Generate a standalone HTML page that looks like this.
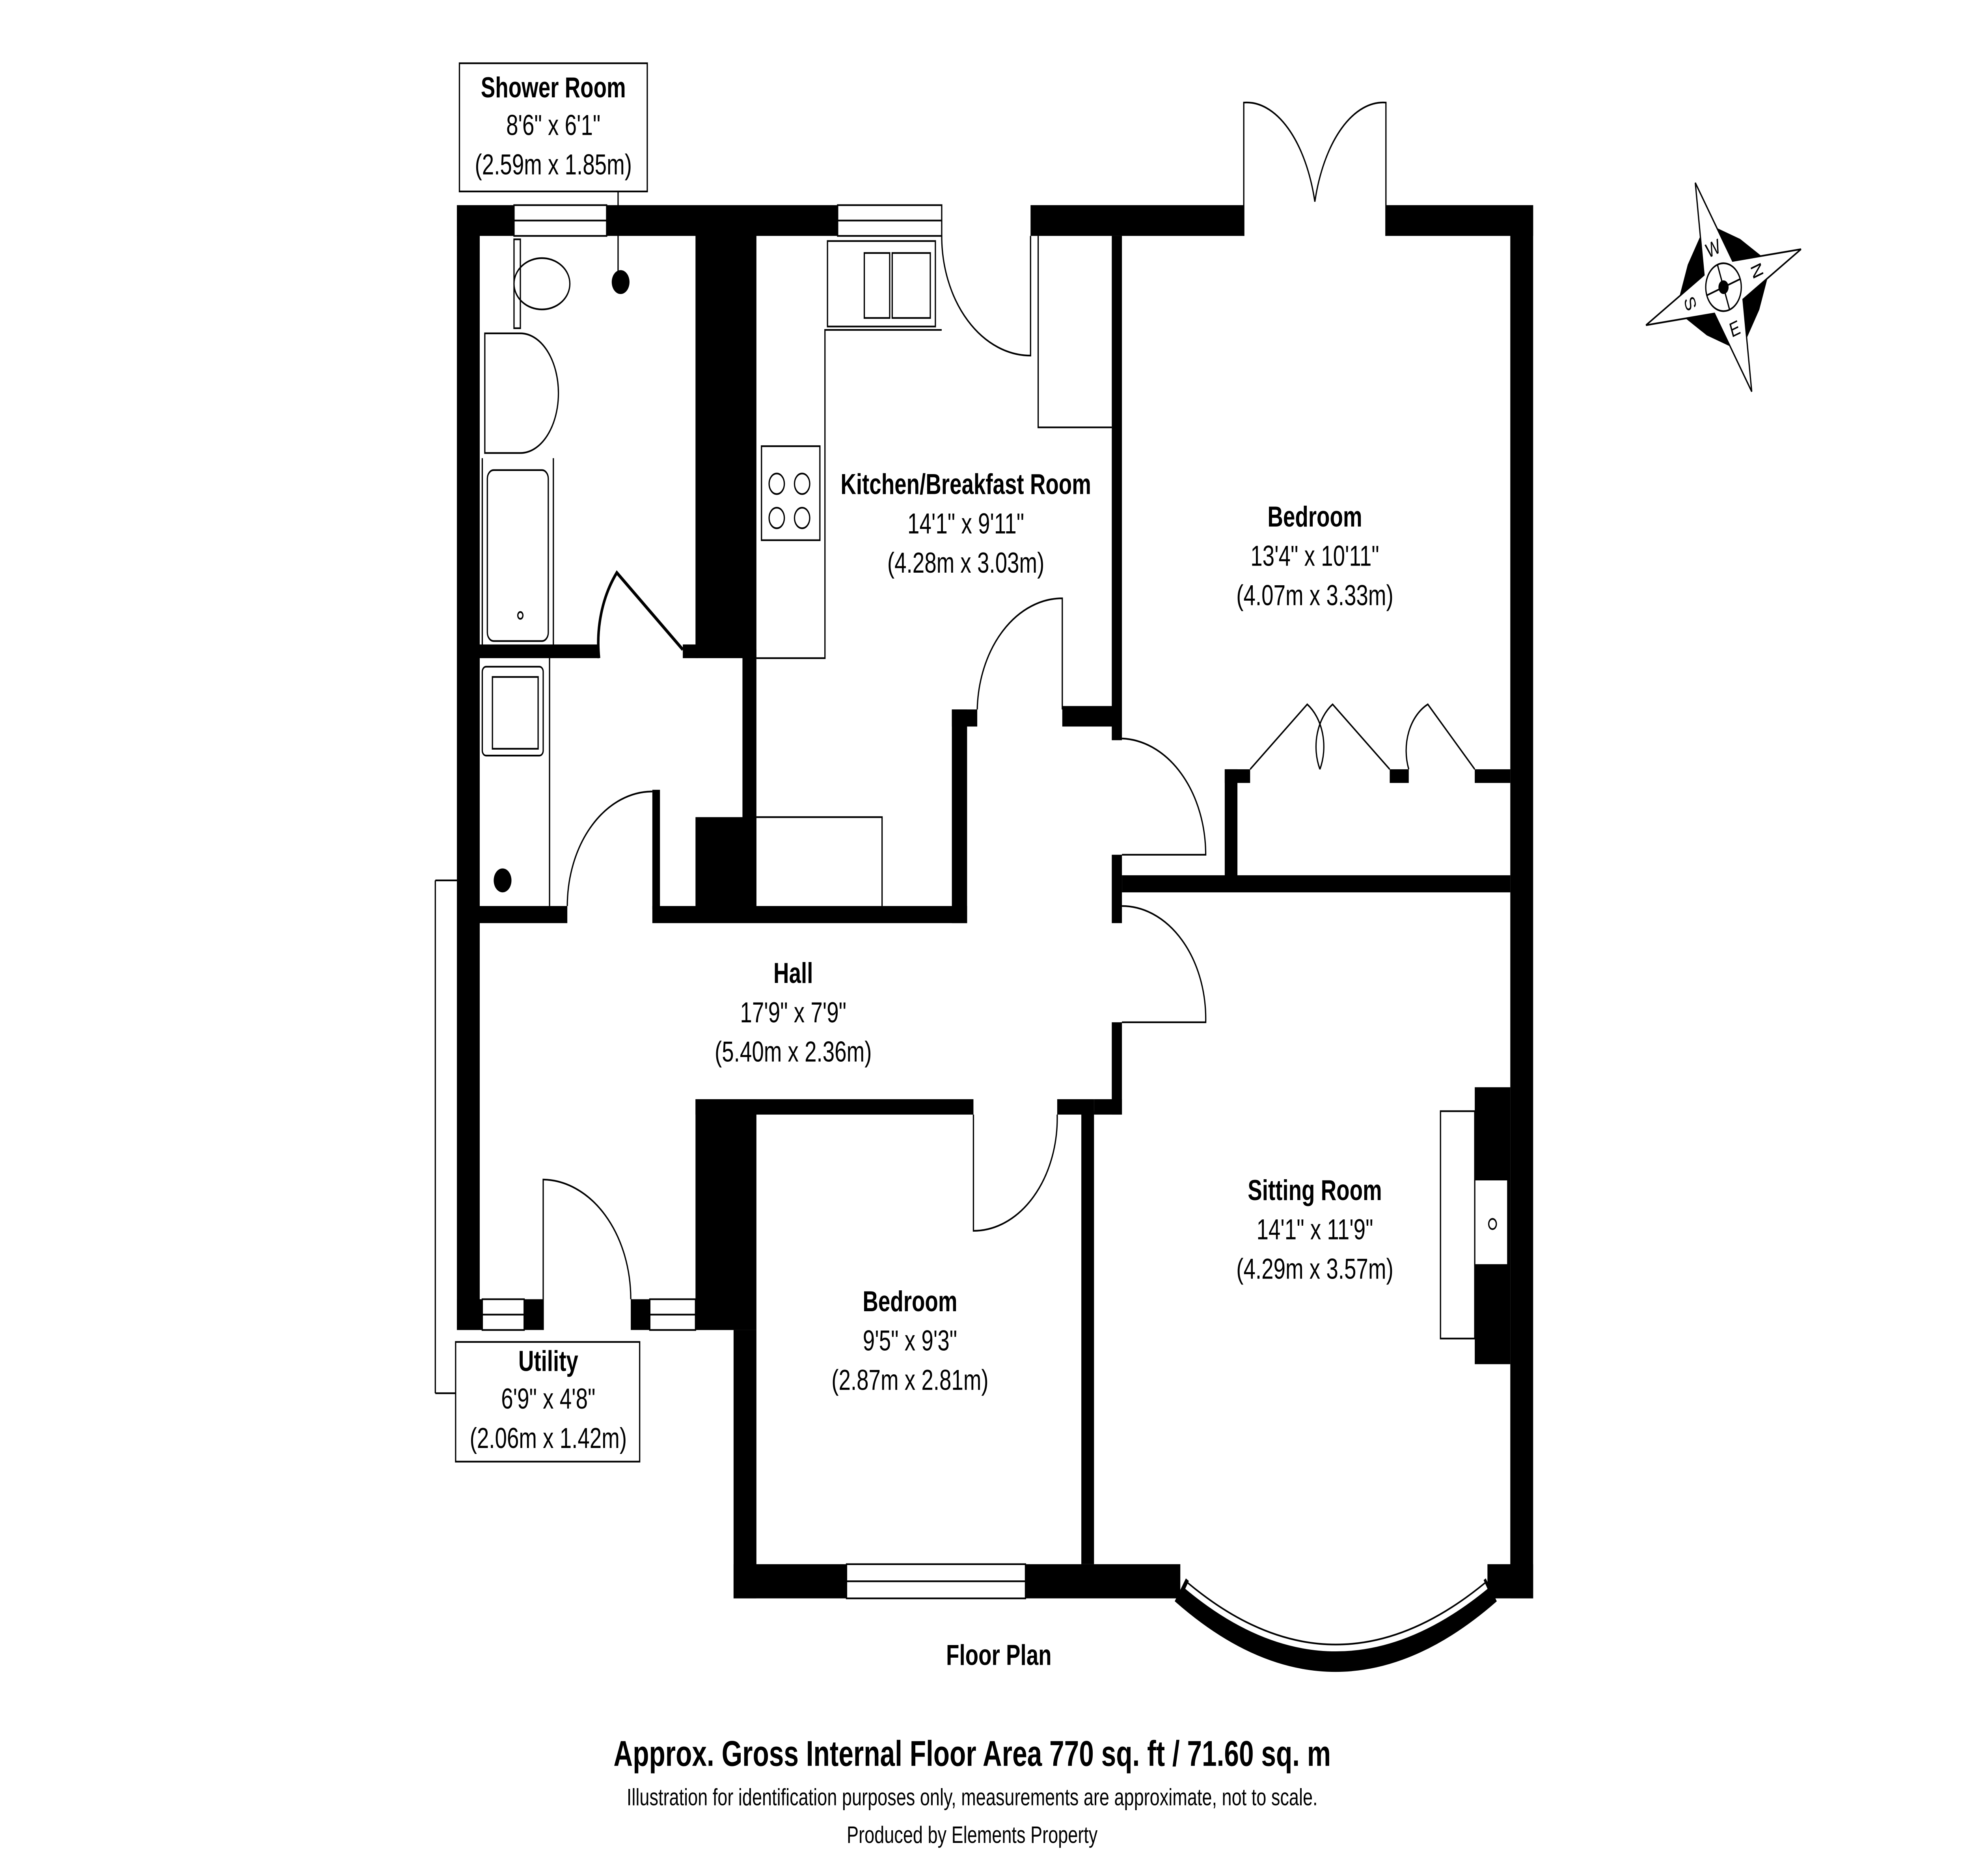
<!DOCTYPE html>
<html><head><meta charset="utf-8"><style>html,body{margin:0;padding:0;background:#fff;width:100%;height:100%;overflow:hidden}svg{display:block;position:absolute;left:0;top:0;width:100vw;height:100vh}</style></head>
<body>
<svg viewBox="0 0 1553 1097.4" preserveAspectRatio="none" xmlns="http://www.w3.org/2000/svg" font-family="Liberation Sans, Arial, sans-serif">
<rect width="1553" height="1098" fill="#fff"/>
<g fill="#000">
<rect x="360" y="120" width="300" height="18"/>
<rect x="812" y="120" width="168" height="18"/>
<rect x="1092" y="120" width="116" height="18"/>
<rect x="360" y="120" width="18" height="658"/>
<rect x="1190" y="120" width="18" height="815"/>
<rect x="548" y="120" width="48" height="265"/>
<rect x="585" y="380" width="11" height="152"/>
<rect x="548" y="478" width="48" height="54"/>
<rect x="378" y="377" width="94" height="8"/>
<rect x="538" y="377" width="12" height="8"/>
<rect x="514" y="462" width="6" height="70"/>
<rect x="378" y="530" width="69" height="10"/>
<rect x="514" y="530" width="248" height="10"/>
<rect x="750" y="415" width="12" height="125"/>
<rect x="750" y="415" width="20" height="10"/>
<rect x="837" y="413" width="45" height="12"/>
<rect x="876" y="138" width="8" height="295"/>
<rect x="876" y="500" width="8" height="40"/>
<rect x="884" y="512" width="306" height="10"/>
<rect x="965" y="450" width="10" height="64"/>
<rect x="965" y="450" width="20" height="8"/>
<rect x="1095" y="450" width="15" height="8"/>
<rect x="1162" y="450" width="28" height="8"/>
<rect x="876" y="598" width="8" height="54"/>
<rect x="862" y="643" width="22" height="9"/>
<rect x="548" y="643" width="219" height="9"/>
<rect x="833" y="643" width="29" height="9"/>
<rect x="548" y="643" width="48" height="135"/>
<rect x="852" y="650" width="10" height="265"/>
<rect x="578" y="778" width="18" height="157"/>
<rect x="578" y="915" width="352" height="20"/>
<rect x="1172" y="915" width="36" height="20"/>
<rect x="360" y="760" width="20" height="18"/>
<rect x="413" y="760" width="15" height="18"/>
<rect x="497" y="760" width="15" height="18"/>
<polygon points="548,760 562,760 578,778 548,778"/>
<rect x="1162" y="636" width="28" height="162"/>
</g>
<g fill="#fff" stroke="#000" stroke-width="1">
<rect x="405" y="120" width="73" height="18"/><line x1="405" y1="129" x2="478" y2="129"/>
<rect x="660" y="120" width="82" height="18"/><line x1="660" y1="129" x2="742" y2="129"/>
<rect x="667" y="915" width="141" height="20"/><line x1="667" y1="925" x2="808" y2="925"/>
<rect x="380" y="760" width="33" height="18"/><line x1="380" y1="769" x2="413" y2="769"/>
<rect x="512" y="760" width="36" height="18"/><line x1="512" y1="769" x2="548" y2="769"/>
<rect x="1135" y="650" width="27" height="133"/>
<rect x="1162" y="690" width="26" height="50"/><circle cx="1176" cy="716" r="3"/>
</g>
<path d="M930,930 Q1052,1010 1175,930" fill="none" stroke="#000" stroke-width="16"/>
<path d="M936,926 Q1052,998 1170,926" fill="none" stroke="#fff" stroke-width="8"/>
<path d="M936,926 Q1052,998 1170,926" fill="none" stroke="#000" stroke-width="1"/>
<g fill="none" stroke="#000" stroke-width="1">
<path d="M742,138 A70,70 0 0 0 812,208 L812,138"/>
<path d="M980,138 V60 A56,80 0 0 1 1036,118"/><path d="M1092,138 V60 A56,80 0 0 0 1036,118"/>
<path d="M472,385 A65,65 0 0 1 486,335 L538,380" stroke-width="2"/>
<path d="M447,530 A67,67 0 0 1 514,463"/>
<path d="M770,415 A67,67 0 0 1 837,350 V415"/>
<path d="M884,432 A68,68 0 0 1 950,500 H884"/>
<path d="M884,530 A66,66 0 0 1 950,598 H884"/>
<path d="M767,652 V720 A66,66 0 0 0 833,652"/>
<path d="M428,778 V690 A70,70 0 0 1 497,760"/>
<path d="M985,450 L1030,412 A30,30 0 0 1 1040,450 M1095,450 L1050,412 A30,30 0 0 0 1040,450 M1162,450 L1125,412 A30,30 0 0 0 1110,450"/>
<polyline points="596,385 650,385 650,193 742,193"/>
<polyline points="818,138 818,250 876,250"/>
<polyline points="596,478 695,478 695,530"/>
<rect x="652" y="141" width="85" height="50"/>
<rect x="681" y="148" width="20" height="38"/><rect x="703" y="148" width="30" height="38"/>
<rect x="600" y="261" width="46" height="55"/>
<circle cx="612" cy="283" r="6"/><circle cx="632" cy="283" r="6"/><circle cx="612" cy="303" r="6"/><circle cx="632" cy="303" r="6"/>
<ellipse cx="427" cy="166" rx="22" ry="15"/>
<rect x="405" y="140" width="5" height="52"/>
<path d="M382,195 V265 H410 A30,35 0 0 0 410,195 Z"/>
<path d="M380,268 V378 M436,268 V378"/>
<rect x="384" y="275" width="48" height="100" rx="5"/>
<circle cx="410" cy="360" r="2"/>
<rect x="380" y="390" width="48" height="52" rx="3"/><rect x="388" y="396" width="36" height="42"/>
<line x1="433" y1="385" x2="433" y2="530"/>
<rect x="362" y="37" width="148" height="75"/><line x1="487" y1="112" x2="487" y2="163"/>
<rect x="359" y="785" width="145" height="70"/>
<line x1="343" y1="515" x2="360" y2="515"/><line x1="343" y1="515" x2="343" y2="815"/><line x1="343" y1="815" x2="359" y2="815"/>
</g>
<g fill="#000">
<circle cx="489" cy="165" r="7"/>
<circle cx="396" cy="515" r="7"/>
</g>
<g transform="translate(1358,168) rotate(-20)">
<polygon points="0,-40 -22,-22 -40,0 -22,22 0,40 22,22 40,0 22,-22" fill="#000"/>
<polygon points="0,-65 12,-12 65,0 12,12 0,65 -12,12 -65,0 -12,-12" fill="#fff" stroke="#000"/>
<circle r="14" fill="#fff" stroke="#000"/>
<line x1="-14" y1="0" x2="14" y2="0" stroke="#000"/><line x1="0" y1="-14" x2="0" y2="14" stroke="#000"/>
<circle r="4" fill="#000"/>
<g font-size="12" text-anchor="middle"><text x="0" y="-20">W</text><text x="0" y="30">E</text><text x="-28" y="4" transform="rotate(90 -28 0)">S</text><text x="28" y="4" transform="rotate(90 28 0)">N</text></g>
</g>
<g text-anchor="middle" fill="#000" font-size="17">
<text x="436" y="57" font-weight="bold">Shower Room</text><text x="436" y="79">8'6" x 6'1"</text><text x="436" y="102">(2.59m x 1.85m)</text>
<text x="761" y="289" font-weight="bold">Kitchen/Breakfast Room</text><text x="761" y="312">14'1" x 9'11"</text><text x="761" y="335">(4.28m x 3.03m)</text>
<text x="1036" y="308" font-weight="bold">Bedroom</text><text x="1036" y="331">13'4" x 10'11"</text><text x="1036" y="354">(4.07m x 3.33m)</text>
<text x="625" y="575" font-weight="bold">Hall</text><text x="625" y="598">17'9" x 7'9"</text><text x="625" y="621">(5.40m x 2.36m)</text>
<text x="1036" y="702" font-weight="bold">Sitting Room</text><text x="1036" y="725">14'1" x 11'9"</text><text x="1036" y="748">(4.29m x 3.57m)</text>
<text x="717" y="767" font-weight="bold">Bedroom</text><text x="717" y="790">9'5" x 9'3"</text><text x="717" y="813">(2.87m x 2.81m)</text>
<text x="432" y="802" font-weight="bold">Utility</text><text x="432" y="824">6'9" x 4'8"</text><text x="432" y="847">(2.06m x 1.42m)</text>
<text x="787" y="974" font-weight="bold">Floor Plan</text>
<text x="766" y="1033" font-weight="bold" font-size="21">Approx. Gross Internal Floor Area 770 sq. ft / 71.60 sq. m</text>
<text x="766" y="1056" font-size="14">Illustration for identification purposes only, measurements are approximate, not to scale.</text>
<text x="766" y="1078" font-size="14">Produced by Elements Property</text>
</g>
</svg>
</body></html>
